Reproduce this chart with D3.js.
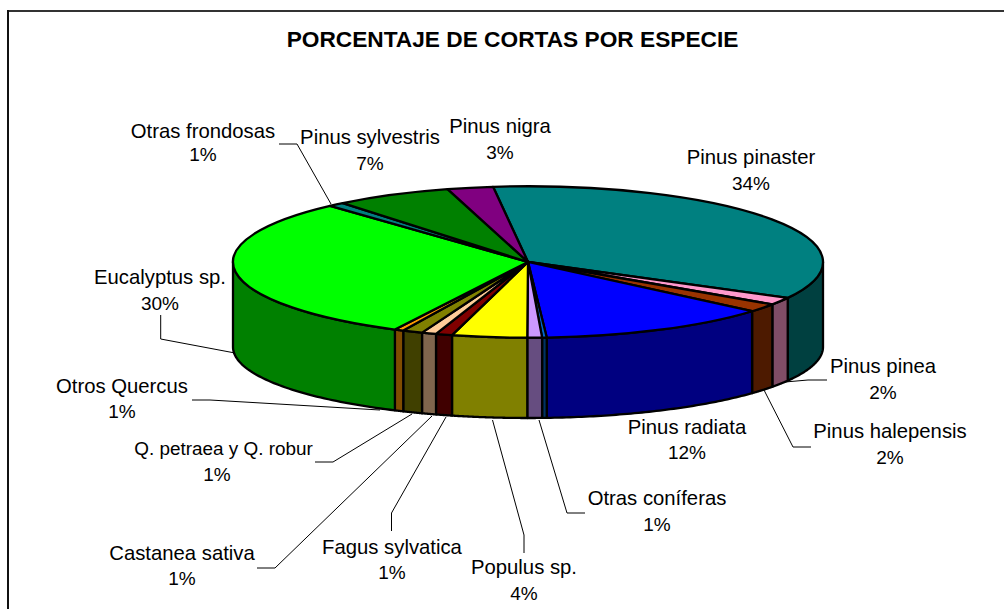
<!DOCTYPE html>
<html>
<head>
<meta charset="utf-8">
<script src="https://cdn.jsdelivr.net/npm/d3@7"></script>
<style>
html,body{margin:0;padding:0;background:#fff;overflow:hidden}
svg{display:block}
text{font-family:"Liberation Sans",Arial,sans-serif;fill:#000}
</style>
</head>
<body>
<svg id="chart" width="1004" height="609"></svg>
<script>
// --- data ---
const species = ["Pinus pinaster","Pinus pinea","Pinus halepensis","Pinus radiata","Otras (sin etiqueta)","Otras coníferas","Populus sp.","Fagus sylvatica","Castanea sativa","Q. petraea y Q. robur","Otros Quercus","Eucalyptus sp.","Otras frondosas","Pinus sylvestris","Pinus nigra"];
const shares = [34.7,1.6,1.8,12.7,0.25,0.8,4.1,0.9,0.8,1.1,0.5,30.8,0.9,6.4,2.5];
const shownPct = ["34%","2%","2%","12%","","1%","4%","1%","1%","1%","1%","30%","1%","7%","3%"];
const colours = ["#008080","#FF99CC","#993300","#0000FF","#0066CC","#CC99FF","#FFFF00","#800000","#FFCC99","#808000","#FF9900","#00FF00","#008080","#008000","#800080"];
// label anchors: [x, name-line y, percent x, percent y]
const labelPos = [[751,164,751,190],[883,373,883,399],[890,438,890,464],[687,434,687,459],null,[657,505,657,531],[524,574,524,600],[392,554,392,579],[182,560,182,585],[223.5,455,217,481],[122,393,122,418],[160,284,160,310],[203,138,203,161],[370,144,370,170],[500,133,500,159]];
// leader lines
const leaders = [null,[[827,380],[808,380],[785,382]],[[811,447],[793,447],[764,390]],null,null,[[585,513],[567,513],[539,420]],[[524,553],[524,535],[492.5,420]],[[391.5,531],[391.5,513],[446,417]],[[257,568],[275,568],[432,416]],[[315,462],[333,462],[412,414]],[[192,400],[210,400],[380,410]],[[160.7,315],[160.7,339],[235,353]],[[279,144],[297,144],[331,204]],null,null];

const title = "PORCENTAJE DE CORTAS POR ESPECIE";

// --- geometry ---
const cx = 528, rx = 295, topCy = 262, topRy = 75.7, botCy = 347, botRy = 71;
const startDeg = -6.8;
const rad = d => d * Math.PI / 180;
const sx = d3.scaleLinear([-1,1],[cx-rx,cx+rx]);
const syTop = d3.scaleLinear([-1,1],[topCy-topRy,topCy+topRy]);
const syBot = d3.scaleLinear([-1,1],[botCy-botRy,botCy+botRy]);

const svg = d3.select("#chart");

// frame
svg.append("line").attr("x1",7).attr("x2",1004).attr("y1",11).attr("y2",11).attr("stroke","#333").attr("stroke-width",2);
svg.append("line").attr("x1",8).attr("x2",8).attr("y1",10).attr("y2",609).attr("stroke","#111").attr("stroke-width",2);

svg.append("text").attr("x",512.5).attr("y",47).attr("text-anchor","middle")
  .attr("font-size",22.7).attr("font-weight","bold").text(title);

const pie = d3.pie().sort(null).startAngle(rad(startDeg)).endAngle(rad(startDeg+360)).value(d=>d);
const arcs = pie(shares);
const halve = c => { const k = d3.rgb(c); return d3.rgb(k.r/2,k.g/2,k.b/2).formatHex(); };

// sides: only the front half of the drum is visible
const line = d3.line();
const sideGroup = svg.append("g");
arcs.forEach((a,i)=>{
  const lo = Math.max(a.startAngle, rad(90)), hi = Math.min(a.endAngle, rad(270));
  if (hi <= lo) return;
  const ts = d3.range(0,61).map(k=>lo+(hi-lo)*k/60);
  const pts = ts.map(t=>[sx(Math.sin(t)),syTop(-Math.cos(t))])
    .concat(ts.slice().reverse().map(t=>[sx(Math.sin(t)),syBot(-Math.cos(t))]));
  sideGroup.append("path").attr("d",line(pts)+"Z")
    .attr("fill",halve(colours[i])).attr("stroke","#000").attr("stroke-width",2.3).attr("stroke-linejoin","round");
});

// top face
const arc = d3.arc().innerRadius(0).outerRadius(rx);
svg.append("g").attr("transform",`translate(${cx},${topCy}) scale(1,${topRy/rx})`)
  .selectAll("path").data(arcs).join("path")
  .attr("d",arc).attr("fill",(d,i)=>colours[i])
  .attr("stroke","#000").attr("stroke-width",2.3).attr("stroke-linejoin","round")
  .attr("vector-effect","non-scaling-stroke");

// leader lines
svg.append("g").selectAll("path").data(leaders.filter(Boolean)).join("path")
  .attr("d",d=>line(d)).attr("fill","none").attr("stroke","#000").attr("stroke-width",1);

// labels
const lab = svg.append("g").attr("font-size",20.3).attr("text-anchor","middle");
species.forEach((n,i)=>{
  const p = labelPos[i];
  if(!p) return;
  const t = lab.append("text").attr("x",p[0]).attr("y",p[1]).text(n);
  if (n.length > 16) t.attr("font-size",18.9);
  lab.append("text").attr("x",p[2]).attr("y",p[3]).attr("font-size",19).text(shownPct[i]);
});
</script>
</body>
</html>
